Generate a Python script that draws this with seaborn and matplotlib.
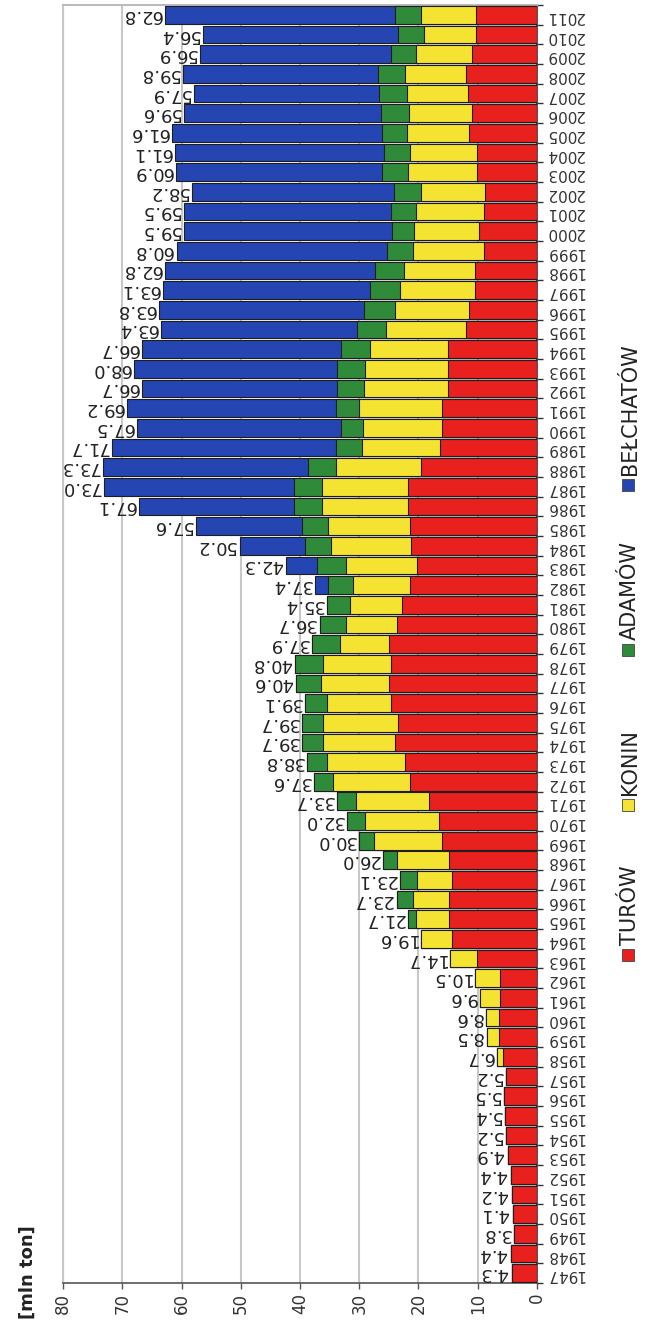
import numpy as np
import pandas as pd
import seaborn as sns
import matplotlib.pyplot as plt
from matplotlib.patches import Rectangle

years = list(range(1947, 2012))

# output per mine [mln ton]
turow = [4.3, 4.4, 3.8, 4.1, 4.2, 4.4, 4.9, 5.2, 5.4, 5.5, 5.2,
         5.8, 6.4, 6.4, 6.2, 6.2, 10.2, 14.3, 14.8, 14.8, 14.3, 14.8, 16.0, 16.5, 18.3,
         21.5, 22.3, 24.0, 23.4, 24.7, 24.9, 24.7, 24.9, 23.6, 22.8,
         21.5, 20.2, 21.3, 21.5, 21.7, 21.7, 19.5, 16.3, 16.0, 16.0,
         15.0, 15.0, 15.0, 12.0, 11.5, 10.5, 10.5, 9.0, 9.8, 9.0,
         8.8, 10.2, 10.2, 11.5, 11.0, 11.7, 12.0, 11.0, 10.3, 10.3]
konin = [0, 0, 0, 0, 0, 0, 0, 0, 0, 0, 0,
         0.9, 2.1, 2.2, 3.4, 4.3, 4.5, 5.3, 5.7, 6.1, 6.0, 8.8, 11.5, 12.5, 12.3,
         12.9, 13.1, 12.2, 12.8, 10.7, 11.6, 11.4, 8.4, 8.7, 8.8,
         9.6, 12.1, 13.4, 13.7, 14.6, 14.6, 14.5, 13.3, 13.4, 14.0,
         14.2, 14.0, 13.2, 13.4, 12.5, 12.6, 11.9, 11.9, 11.0, 11.5,
         10.7, 11.5, 11.3, 10.4, 10.6, 10.3, 10.3, 9.4, 8.7, 9.2]
adamow = [0, 0, 0, 0, 0, 0, 0, 0, 0, 0, 0,
          0, 0, 0, 0, 0, 0, 0, 1.2, 2.8, 2.8, 2.4, 2.5, 3.0, 3.1,
          3.2, 3.4, 3.5, 3.5, 3.7, 4.1, 4.7, 4.6, 4.4, 3.8,
          4.1, 4.9, 4.5, 4.4, 4.7, 4.7, 4.6, 4.4, 3.7, 4.0,
          4.6, 4.8, 4.9, 4.9, 5.2, 5.1, 4.9, 4.4, 3.7, 4.2,
          4.6, 4.4, 4.3, 4.3, 4.8, 4.6, 4.5, 4.3, 4.5, 4.5]
belchatow = [0, 0, 0, 0, 0, 0, 0, 0, 0, 0, 0,
             0, 0, 0, 0, 0, 0, 0, 0, 0, 0, 0, 0, 0, 0,
             0, 0, 0, 0, 0, 0, 0, 0, 0, 0,
             2.2, 5.1, 11.0, 18.0, 26.1, 32.0, 34.7, 37.7, 34.4, 35.2,
             32.9, 34.2, 33.6, 33.1, 34.6, 34.9, 35.5, 35.5, 35.0, 34.8,
             34.1, 34.8, 35.3, 35.4, 33.2, 31.3, 33.0, 32.2, 32.9, 38.8]
totals = [4.3, 4.4, 3.8, 4.1, 4.2, 4.4, 4.9, 5.2, 5.4, 5.5, 5.2,
          6.7, 8.5, 8.6, 9.6, 10.5, 14.7, 19.6, 21.7, 23.7, 23.1, 26.0, 30.0, 32.0, 33.7,
          37.6, 38.8, 39.7, 39.7, 39.1, 40.6, 40.8, 37.9, 36.7, 35.4,
          37.4, 42.3, 50.2, 57.6, 67.1, 73.0, 73.3, 71.7, 67.5, 69.2,
          66.7, 68.0, 66.7, 63.4, 63.8, 63.1, 62.8, 60.8, 59.5, 59.5,
          58.2, 60.9, 61.1, 61.6, 59.6, 57.9, 59.8, 56.9, 56.4, 62.8]

mines = ["TURÓW", "KONIN", "ADAMÓW", "BEŁCHATÓW"]
colors = ["#e8201e", "#f4e330", "#2f8a3a", "#2546b2"]

df = pd.DataFrame({"year": [str(y) for y in years], "turow": turow, "konin": konin,
                   "adamow": adamow, "belchatow": belchatow, "total": totals})
df["c1"] = df["turow"]
df["c2"] = df["c1"] + df["konin"]
df["c3"] = df["c2"] + df["adamow"]
df["c4"] = df["c3"] + df["belchatow"]
order = [str(y) for y in years[::-1]]

sns.set_theme(style="white")
plt.rcParams["font.family"] = ["DejaVu Sans"]

fig = plt.figure(figsize=(6.49, 13.3), dpi=100)
ax = fig.add_axes([0.0971, 0.0353, 0.7303, 0.9609])

# stacked bars: draw cumulative sums from the longest to the shortest
for col, color in zip(["c4", "c3", "c2", "c1"], colors[::-1]):
    sns.barplot(data=df, x=col, y="year", order=order, orient="h", color=color,
                saturation=1, width=0.9, edgecolor="#1e1e1e", linewidth=0.8,
                errorbar=None, ax=ax, zorder=3)

ax.set_xlim(80, 0)
ax.set_ylim(64.5, -0.5)
ax.set_xlabel("")
ax.set_ylabel("")

# total labels at the bar ends, upside down like the rest of the picture
tot_by_year = dict(zip(df["year"], df["total"]))
for i, yr in enumerate(order):
    tot = tot_by_year[yr]
    ax.text(tot + 0.6, i, f"{tot:.1f}", rotation=180, ha="right", va="center",
            fontsize=13, color="#222222", zorder=4)

ax.yaxis.tick_right()
ax.set_yticks(range(len(order)))
ax.set_yticklabels(order, rotation=180, fontsize=11, color="#333333")
ax.set_yticks(np.arange(-0.5, len(order), 1), minor=True)
ax.tick_params(axis="y", which="major", length=0, pad=6, right=False, left=False)
ax.tick_params(axis="y", which="minor", length=4, width=1, color="#333333",
               direction="out", right=True, left=False)

ax.set_xticks(range(0, 81, 10))
ax.set_xticklabels([str(v) for v in range(0, 81, 10)], rotation=90, fontsize=12,
                   color="#333333")
ax.tick_params(axis="x", length=4, width=1, color="#555555", direction="out",
               bottom=True, pad=3)

ax.xaxis.grid(True, color="#c8c8c8", linewidth=1.5, zorder=0)
ax.yaxis.grid(False)
ax.set_axisbelow(True)
ax.spines["top"].set_color("#bbbbbb")
ax.spines["top"].set_linewidth(1.5)
ax.spines["left"].set_color("#c8c8c8")
ax.spines["left"].set_linewidth(1.5)
ax.spines["bottom"].set_color("#555555")
ax.spines["bottom"].set_linewidth(1.2)
ax.spines["right"].set_color("#333333")
ax.spines["right"].set_linewidth(1.2)

fig.text(28 / 649, 1 - 1272 / 1330, "[mln ton]", rotation=90, fontweight="bold",
         fontsize=13, ha="center", va="center", color="#222222")

# legend drawn by hand so the labels can run upwards
W, H = 649, 1330
legend_y = [955, 805, 650, 485]
for name, color, ypx in zip(mines, colors, legend_y):
    fig.patches.append(Rectangle(((628 - 6) / W, 1 - (ypx + 6) / H), 12 / W, 12 / H,
                                 transform=fig.transFigure, facecolor=color,
                                 edgecolor="#444444", linewidth=0.6))
    fig.text(630 / W, 1 - (ypx - 10) / H, name, rotation=90, ha="center", va="bottom",
             fontsize=15, color="#222222")

fig.savefig("out.png", dpi=100)
